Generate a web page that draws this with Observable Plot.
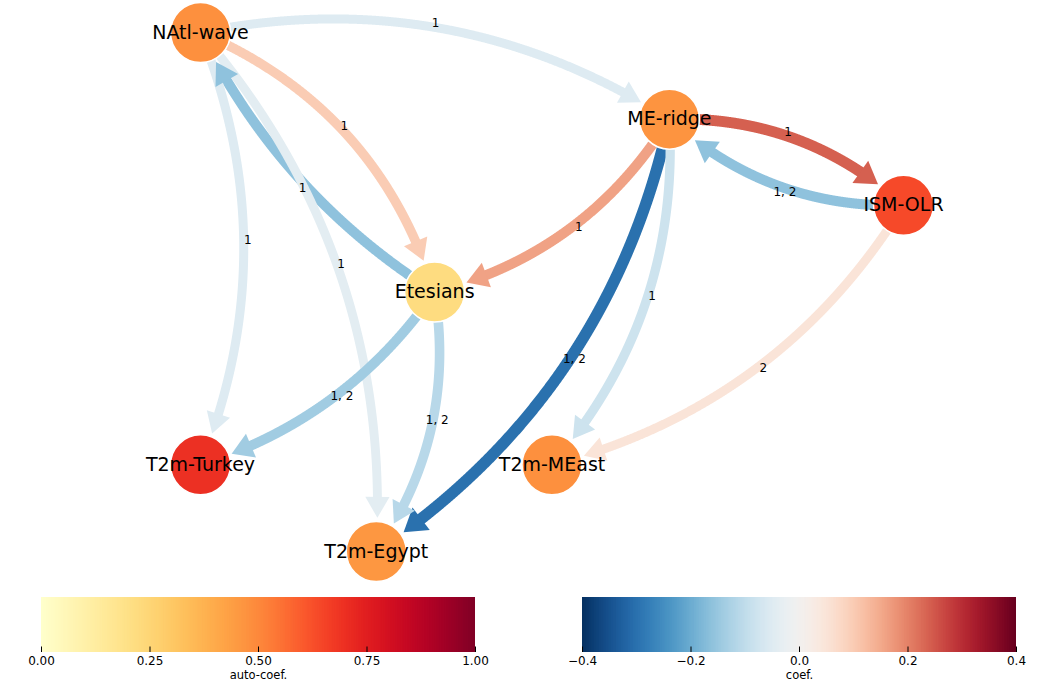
<!DOCTYPE html>
<html>
<head>
<meta charset="utf-8">
<script src="https://cdn.jsdelivr.net/npm/d3@7"></script>
<script src="https://cdn.jsdelivr.net/npm/@observablehq/plot@0.6"></script>
<style>
  html, body { margin: 0; padding: 0; background: #fff; }
  body { font-family: "DejaVu Sans", sans-serif; width: 1043px; }
  #bars { display: flex; }
  svg { display: block; }
</style>
</head>
<body>
<div id="chart"></div>
<div id="bars"></div>
<script>
// ---- Data ----
const nodeNames = ["NAtl-wave", "ME-ridge", "ISM-OLR", "Etesians", "T2m-Turkey", "T2m-MEast", "T2m-Egypt"];
const nodeX     = [0.0,   0.667, 1.0,   0.333, 0.0,   0.5,   0.25];
const nodeY     = [1.0,   0.833, 0.667, 0.5,   0.167, 0.167, 0.0];
const autoCoef  = [0.48,  0.47,  0.64,  0.22,  0.70,  0.48,  0.46];

const linkSource = ["NAtl-wave", "NAtl-wave", "Etesians", "NAtl-wave", "NAtl-wave", "ME-ridge", "ISM-OLR", "ME-ridge", "ME-ridge", "ME-ridge", "ISM-OLR", "Etesians", "Etesians"];
const linkTarget = ["ME-ridge", "Etesians", "NAtl-wave", "T2m-Turkey", "T2m-Egypt", "ISM-OLR", "ME-ridge", "Etesians", "T2m-Egypt", "T2m-MEast", "T2m-MEast", "T2m-Turkey", "T2m-Egypt"];
const linkCoef   = [-0.05, 0.10, -0.16, -0.05, -0.04, 0.24, -0.16, 0.16, -0.30, -0.08, 0.05, -0.14, -0.11];
const linkLags   = ["1", "1", "1", "1", "1", "1", "1, 2", "1", "1, 2", "1", "2", "1, 2", "1, 2"];

const autoTicks = [0, 0.25, 0.5, 0.75, 1];
const coefTicks = [-0.4, -0.2, 0, 0.2, 0.4];

// ---- Layout / style constants ----
const W = 1043, H = 590;
const X0 = 200, X1 = 903, Y0 = 551, Y1 = 32;   // scale ranges
const RAD = 0.2;            // default arc curvature
const RAD_STYLE = {"Etesians→NAtl-wave": 0.14, "Etesians→T2m-Turkey": 0.17, "NAtl-wave→Etesians": 0.23};
const NODE_R = 30;
const FONT = "DejaVu Sans, sans-serif";

const px = x => X0 + x * (X1 - X0), py = y => Y0 + y * (Y1 - Y0);
const ix = p => (p - X0) / (X1 - X0), iy = p => (p - Y0) / (Y1 - Y0);

const nodes = nodeNames.map((name, i) => ({name, x: nodeX[i], y: nodeY[i], auto: autoCoef[i]}));
const byName = new Map(nodes.map(n => [n.name, n]));

const coefScale = Plot.scale({color: {type: "linear", scheme: "RdBu", reverse: true, domain: [-0.4, 0.4]}});

const dist = (p, q) => Math.hypot(p[0] - q[0], p[1] - q[1]);

const edges = linkSource.map((s, k) => {
  const A = byName.get(s), Bn = byName.get(linkTarget[k]);
  const rad = RAD_STYLE[s + "→" + linkTarget[k]] ?? RAD;
  const a = [px(A.x), py(A.y)], b = [px(Bn.x), py(Bn.y)];
  const dx = b[0] - a[0], dy = b[1] - a[1];
  const c = [(a[0] + b[0]) / 2 + rad * dy, (a[1] + b[1]) / 2 - rad * dx];
  const Bz = t => [
    (1 - t) * (1 - t) * a[0] + 2 * (1 - t) * t * c[0] + t * t * b[0],
    (1 - t) * (1 - t) * a[1] + 2 * (1 - t) * t * c[1] + t * t * b[1]
  ];
  const N = 800;
  const pts = d3.range(N + 1).map(i => Bz(i / N));
  const coef = linkCoef[k];
  const w = 8.5 + 10 * Math.abs(coef);
  const headLen = 15 + 0.6 * w;
  const headW = 1.6 * w + 10;
  const i0 = pts.findIndex(p => dist(p, a) >= NODE_R);
  let iTip = N; while (iTip > 0 && dist(pts[iTip], b) < NODE_R + 3) iTip--;
  const tip = pts[iTip];
  let iBase = iTip; while (iBase > 0 && dist(pts[iBase], tip) < headLen) iBase--;
  const base = pts[iBase];
  const L = dist(tip, base);
  const dir = [(tip[0] - base[0]) / L, (tip[1] - base[1]) / L];
  const perp = [-dir[1], dir[0]];
  const head = [
    tip,
    [base[0] + perp[0] * headW / 2, base[1] + perp[1] * headW / 2],
    [base[0] - perp[0] * headW / 2, base[1] - perp[1] * headW / 2],
    tip
  ].map(p => ({x: ix(p[0]), y: iy(p[1])}));
  const shaft = pts.slice(i0, Math.min(iBase + 6, iTip)).map(p => ({x: ix(p[0]), y: iy(p[1])}));
  const m = Bz(0.5);
  const dl = Math.hypot(dx, dy);
  const d0 = [dx / dl, dy / dl], out = [dy / dl, -dx / dl];
  const lab = {x: ix(m[0] - 9 * d0[0] + 4 * out[0]), y: iy(m[1] - 9 * d0[1] + 4 * out[1]), text: linkLags[k]};
  return {coef, w, color: coefScale.apply(coef), shaft, head, lab};
});

const shaftMarks = edges.map(e =>
  Plot.line(e.shaft, {x: "x", y: "y", stroke: e.color, strokeWidth: e.w, strokeLinecap: "butt", strokeLinejoin: "round"}));
const headMarks = edges.map(e =>
  Plot.line(e.head, {x: "x", y: "y", fill: e.color, stroke: "none"}));

const chart = Plot.plot({
  width: W, height: H, margin: 0,
  style: {fontFamily: FONT, background: "white"},
  x: {domain: [0, 1], range: [X0, X1], axis: null},
  y: {domain: [0, 1], range: [Y0, Y1], axis: null},
  color: {type: "linear", scheme: "YlOrRd", domain: [0, 1]},
  marks: [
    ...shaftMarks,
    ...headMarks,
    Plot.dot(nodes, {x: "x", y: "y", r: NODE_R, fill: "auto", stroke: "white", strokeWidth: 1.5}),
    Plot.text(nodes, {x: "x", y: "y", text: "name", fontSize: 19, fill: "black"}),
    Plot.text(edges.map(e => e.lab), {x: "x", y: "y", text: "text", fontSize: 12, fill: "black"})
  ]
});
document.getElementById("chart").appendChild(chart);

// ---- Colorbars ----
function colorbar({width, marginLeft, marginRight, domain, colorOpts, ticks, fmt, label}) {
  const n = 256;
  const steps = d3.range(n).map(i => {
    const t0 = domain[0] + (domain[1] - domain[0]) * i / n;
    const t1 = domain[0] + (domain[1] - domain[0]) * Math.min(i + 1.6, n) / n;
    return {x1: t0, x2: t1, v: domain[0] + (domain[1] - domain[0]) * (i + 0.5) / n};
  });
  return Plot.plot({
    width, height: 94, marginLeft, marginRight, marginTop: 7, marginBottom: 32,
    style: {fontFamily: FONT, fontSize: "12px", background: "white", color: "black"},
    x: {domain, ticks, tickFormat: fmt, tickSize: 0, tickPadding: 4, label: null},
    y: {domain: [0, 1], axis: null},
    color: colorOpts,
    marks: [
      Plot.rect(steps, {x1: "x1", x2: "x2", y1: 0, y2: 1, fill: "v", inset: 0}),
      Plot.ruleX(ticks, {y1: 0, y2: 0.1, stroke: "black", strokeWidth: 1}),
      Plot.text([label], {frameAnchor: "bottom", dy: 26, fontSize: 11.5, fill: "black"})
    ]
  });
}
const bars = document.getElementById("bars");
bars.appendChild(colorbar({
  width: 521, marginLeft: 41, marginRight: 46, domain: [0, 1],
  colorOpts: {type: "linear", scheme: "YlOrRd", domain: [0, 1]},
  ticks: autoTicks, fmt: ".2f", label: "auto-coef."
}));
bars.appendChild(colorbar({
  width: 522, marginLeft: 61, marginRight: 27, domain: [-0.4, 0.4],
  colorOpts: {type: "linear", scheme: "RdBu", reverse: true, domain: [-0.4, 0.4]},
  ticks: coefTicks, fmt: ".1f", label: "coef."
}));
</script>
</body>
</html>
